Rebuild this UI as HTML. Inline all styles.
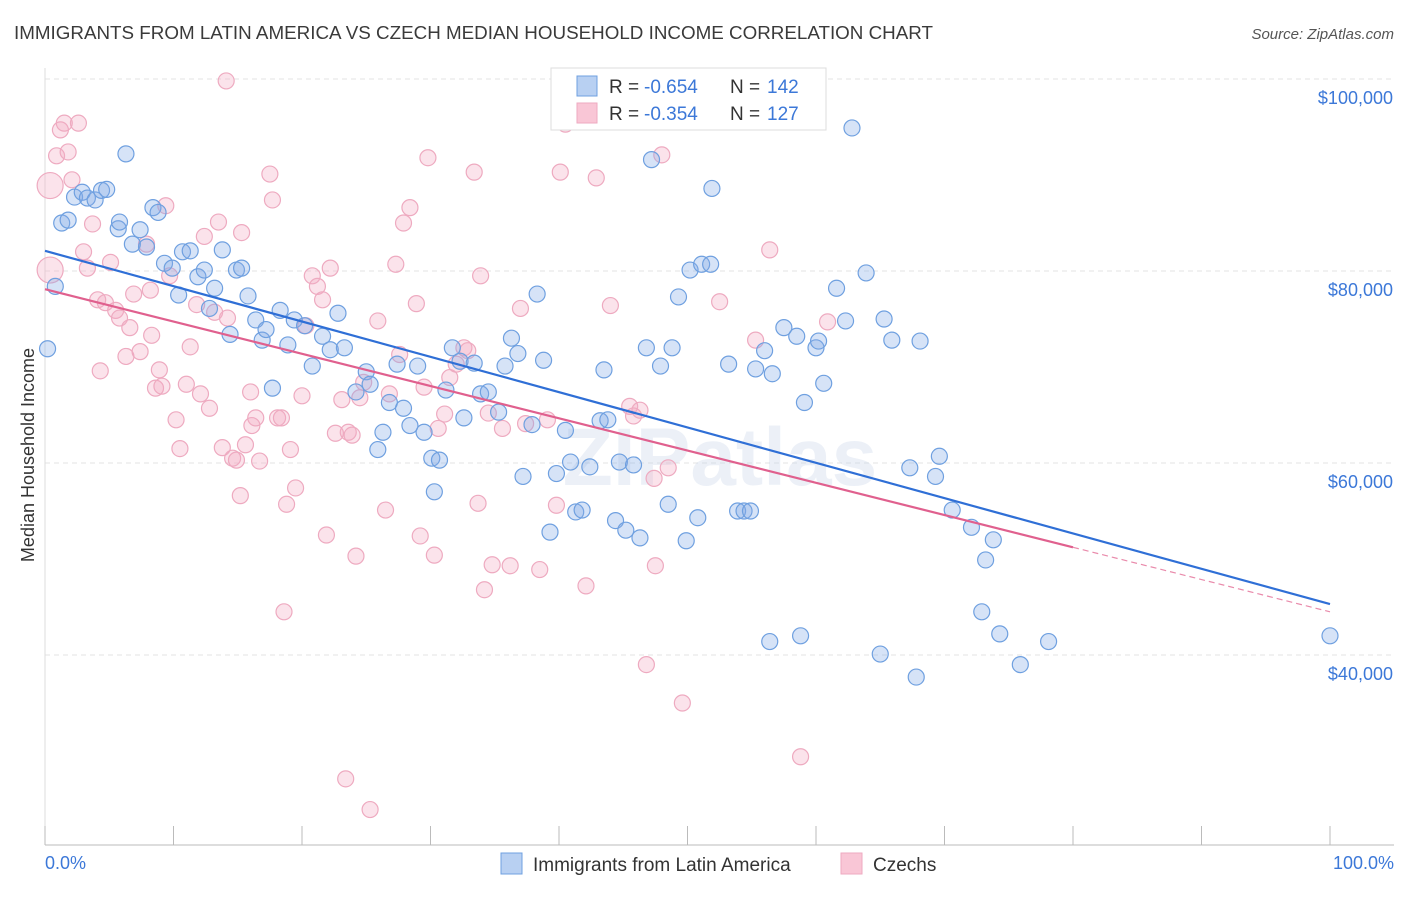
<!DOCTYPE html>
<html><head><meta charset="utf-8"><style>
body{margin:0;background:#fff;font-family:"Liberation Sans",sans-serif;}
svg text{font-family:"Liberation Sans",sans-serif;}
</style></head><body>
<svg id="chart" width="1406" height="892" viewBox="0 0 1406 892">
<text x="14" y="39" font-size="18" textLength="919" lengthAdjust="spacingAndGlyphs" fill="#3a3a3a">IMMIGRANTS FROM LATIN AMERICA VS CZECH MEDIAN HOUSEHOLD INCOME CORRELATION CHART</text>
<text x="1394" y="39" font-size="15" fill="#555" font-style="italic" text-anchor="end">Source: ZipAtlas.com</text>
<g id="grid"></g>
<text x="720" y="485" font-size="82" fill="#c9d6ea" opacity="0.35" text-anchor="middle" font-weight="bold">ZIPatlas</text>
<g id="marks"></g>
<text transform="translate(34,455) rotate(-90)" font-size="18" fill="#333" text-anchor="middle">Median Household Income</text>
<text x="45" y="869" font-size="18" fill="#3c78d8">0.0%</text>
<text x="1394" y="869" font-size="18" fill="#3c78d8" text-anchor="end">100.0%</text>
<g>
<rect x="551" y="68" width="275" height="62" fill="#fff" stroke="#ddd"/>
<rect x="577" y="76" width="20" height="20" fill="#b8d0f2" stroke="#6fa0e0"/>
<rect x="577" y="103" width="20" height="20" fill="#f9c6d6" stroke="#eeaac0"/>
<text x="609" y="93" font-size="19" fill="#333">R =</text>
<text x="644" y="93" font-size="19" fill="#3c78d8">-0.654</text>
<text x="730" y="93" font-size="19" fill="#333">N =</text>
<text x="767" y="93" font-size="19" fill="#3c78d8">142</text>
<text x="609" y="120" font-size="19" fill="#333">R =</text>
<text x="644" y="120" font-size="19" fill="#3c78d8">-0.354</text>
<text x="730" y="120" font-size="19" fill="#333">N =</text>
<text x="767" y="120" font-size="19" fill="#3c78d8">127</text>
</g>
<g>
<rect x="501" y="853" width="21" height="21" fill="#b8d0f2" stroke="#6fa0e0"/>
<text x="533" y="871" font-size="19" fill="#333">Immigrants from Latin America</text>
<rect x="841" y="853" width="21" height="21" fill="#f9c6d6" stroke="#eeaac0"/>
<text x="873" y="871" font-size="19" fill="#333">Czechs</text>
</g>
</svg>
<script>
const yTicks=[40000,60000,80000,100000];
const yTickLabels=["$40,000","$60,000","$80,000","$100,000"];
const xTicks=[0,10,20,30,40,50,60,70,80,90,100];
const blueX=[0.2,0.8,1.3,1.8,2.3,2.9,3.3,3.9,4.4,4.8,5.7,5.8,6.3,6.8,7.4,8.4,8.8,7.9,9.3,9.9,10.4,10.7,11.3,11.9,12.4,12.8,13.2,13.8,14.4,14.9,15.3,15.8,16.4,16.9,17.2,17.7,18.3,18.9,19.4,20.2,20.8,21.6,22.2,22.8,23.3,24.2,25.0,25.3,25.9,26.3,26.8,27.4,27.9,28.4,29.0,29.5,30.1,30.7,30.3,31.2,31.7,32.3,32.6,33.4,33.9,34.5,35.3,35.8,36.3,36.8,37.2,37.9,38.3,38.8,39.3,39.8,40.5,40.9,41.3,41.8,42.4,43.2,43.5,43.8,44.4,44.7,45.2,45.8,46.3,46.8,47.2,47.9,48.5,48.8,49.3,49.9,50.2,50.8,51.1,51.8,51.9,53.2,53.9,54.4,54.9,55.3,56.0,56.4,56.6,57.5,58.5,58.8,60.0,60.2,60.6,59.1,61.6,62.3,62.8,63.9,65.0,65.3,65.9,67.3,67.8,68.1,69.3,69.6,70.6,72.1,73.2,72.9,73.8,74.3,75.9,78.1,100];
const blueY=[71.9,78.4,85.0,85.3,87.7,88.2,87.6,87.4,88.4,88.5,84.4,85.1,92.2,82.8,84.3,86.6,86.1,82.5,80.8,80.3,77.5,82.0,82.1,79.4,80.1,76.1,78.2,82.2,73.4,80.1,80.3,77.4,74.9,72.8,73.9,67.8,75.9,72.3,74.9,74.3,70.1,73.2,71.8,75.6,72.0,67.4,69.5,68.2,61.4,63.2,66.3,70.3,65.7,63.9,70.1,63.2,60.5,60.3,57.0,67.6,72.0,70.6,64.7,70.4,67.2,67.4,65.3,70.1,73.0,71.4,58.6,64.0,77.6,70.7,52.8,58.9,63.4,60.1,54.9,55.1,59.6,64.4,69.7,64.5,54.0,60.1,53.0,59.8,52.2,72.0,91.6,70.1,55.7,72.0,77.3,51.9,80.1,54.3,80.7,80.7,88.6,70.3,55.0,55.0,55.0,69.8,71.7,41.4,69.3,74.1,73.2,42.0,72.0,72.7,68.3,66.3,78.2,74.8,94.9,79.8,40.1,75.0,72.8,59.5,37.7,72.7,58.6,60.7,55.1,53.3,49.9,44.5,52.0,42.2,39.0,41.4,42.0];
const pinkX=[0.4,0.4,0.9,1.2,1.5,1.8,2.1,2.6,3.0,3.3,3.7,4.1,4.3,4.7,5.1,5.5,5.8,6.3,6.6,6.9,7.4,7.9,8.2,8.3,8.6,8.9,9.1,9.4,9.7,10.2,10.5,11.0,11.3,11.8,12.1,12.4,12.8,13.2,13.5,13.8,14.2,14.6,14.9,15.2,15.3,15.6,16.0,16.1,16.4,16.7,17.5,17.7,18.1,18.4,18.8,19.1,19.5,20.0,20.3,20.8,21.2,21.6,21.9,22.2,22.6,23.1,23.6,23.9,24.2,24.5,24.8,25.3,25.9,26.5,26.8,27.3,27.6,27.9,28.4,28.9,29.2,29.5,29.8,30.3,30.6,31.1,31.5,32.0,32.6,32.9,33.4,33.7,33.9,34.2,34.5,34.8,35.6,36.2,37.0,37.4,38.5,39.1,39.8,40.1,40.5,42.1,42.9,44.0,45.5,45.8,46.3,46.8,47.4,47.5,48.0,48.5,49.6,52.5,55.3,56.4,58.8,60.9,14.1,18.6,23.4];
const pinkY=[88.9,80.1,92.0,94.7,95.4,92.4,89.5,95.4,82.0,80.3,84.9,77.0,69.6,76.7,80.9,75.9,75.1,71.1,74.1,77.6,71.6,82.8,78.0,73.3,67.8,69.7,68.0,86.8,79.5,64.5,61.5,68.2,72.1,76.5,67.2,83.6,65.7,75.7,85.1,61.6,75.1,60.5,60.3,56.6,84.0,61.9,67.4,63.9,64.7,60.2,90.1,87.4,64.7,64.7,55.7,61.4,57.4,67.0,74.3,79.5,78.4,77.0,52.5,80.3,63.1,66.6,63.2,62.9,50.3,66.8,68.4,23.9,74.8,55.1,67.2,80.7,71.3,85.0,86.6,76.6,52.4,67.9,91.8,50.4,63.6,65.1,68.9,70.3,72.0,71.7,90.3,55.8,79.5,46.8,65.2,49.4,63.6,49.3,76.1,64.1,48.9,64.5,55.6,90.3,95.3,47.2,89.7,76.4,65.9,64.9,65.5,39.0,58.4,49.3,92.1,59.5,35.0,76.8,72.8,82.2,29.4,74.7,99.8,44.5,27.1];
const blueTrend=[82.1,45.3];   // value at 0% and 100%
const pinkTrend=[78.1,44.5];   // value at 0% and 100%
const pinkSolidEnd=80;
const NS="http://www.w3.org/2000/svg";
const xs=v=>45+v*12.85;
const ys=k=>79+(100-k)*9.6;
function mk(tag,attrs,parent){const e=document.createElementNS(NS,tag);for(const k in attrs)e.setAttribute(k,attrs[k]);parent.appendChild(e);return e;}
const grid=document.getElementById('grid'),marks=document.getElementById('marks');
yTicks.forEach((t,i)=>{
  const y=ys(t/1000);
  const l=mk('line',{x1:45,x2:1394,y1:y,y2:y,stroke:'#e3e3e3','stroke-dasharray':'5,4'},grid);
  
  
  const tx=mk('text',{x:1393,y:y+25,'font-size':18,fill:'#3c78d8','text-anchor':'end'},grid);
  tx.textContent=yTickLabels[i];
  
  
});
const ax=mk('line',{x1:45,x2:1394,y1:845,y2:845,stroke:'#bbb'},grid);


const ay=mk('line',{x1:45,x2:45,y1:68,y2:845,stroke:'#ddd'},grid);


xTicks.forEach(t=>{
  const tk=mk('line',{x1:xs(t),x2:xs(t),y1:826,y2:845,stroke:'#bbb'},grid);
  
  
});
pinkX.forEach((x,i)=>{
  const big=(i<2);
  const c=mk('circle',{cx:xs(x),cy:ys(pinkY[i]),r:big?13:8,fill:'rgba(244,170,195,0.33)',stroke:'#eeaac0','stroke-width':1.2},marks);
  
  
});
blueX.forEach((x,i)=>{
  const c=mk('circle',{cx:xs(x),cy:ys(blueY[i]),r:8,fill:'rgba(130,170,230,0.33)',stroke:'#6fa0e0','stroke-width':1.2},marks);
  
  
});
const pAt=x=>pinkTrend[0]+(pinkTrend[1]-pinkTrend[0])*x/100;
const bl=mk('line',{x1:xs(0),y1:ys(blueTrend[0]),x2:xs(100),y2:ys(blueTrend[1]),stroke:'#2f6fd6','stroke-width':2.2},marks);


const pl=mk('line',{x1:xs(0),y1:ys(pAt(0)),x2:xs(pinkSolidEnd),y2:ys(pAt(pinkSolidEnd)),stroke:'#e0608e','stroke-width':2.2},marks);


const pd=mk('line',{x1:xs(pinkSolidEnd),y1:ys(pAt(pinkSolidEnd)),x2:xs(100),y2:ys(pAt(100)),stroke:'#e98aab','stroke-width':1.2,'stroke-dasharray':'6,4'},marks);


</script>
</body></html>
